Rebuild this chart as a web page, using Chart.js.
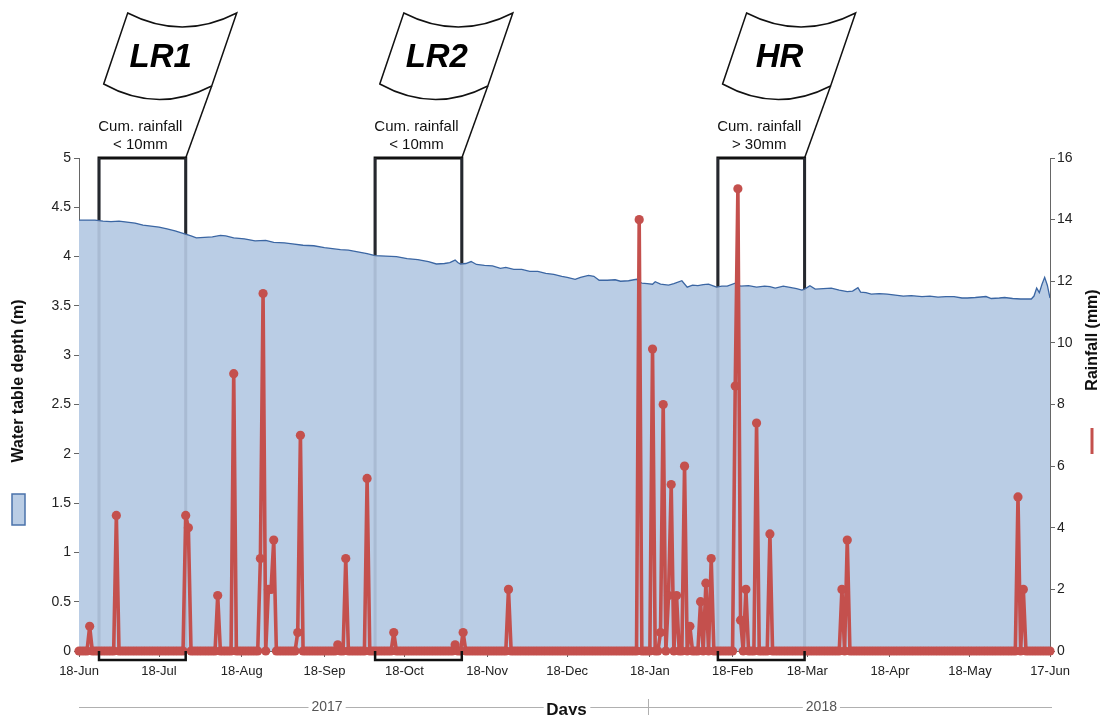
<!DOCTYPE html>
<html>

<head>
    <script src="https://cdn.jsdelivr.net/npm/chart.js"></script>
    <style>
        body {
            margin: 0;
            background-color: white;
            font-family: "Liberation Sans", Arial, sans-serif;
        }

        .chart-box {
            position: relative;
            width: 1109px;
            height: 715px;
        }
    </style>
</head>

<body>
    <div class="chart-box">
        <canvas id="waterChart"></canvas>
    </div>

    <script>
        // Days counted from 18-Jun-2017 (day 0) to 17-Jun-2018 (day 364)
        const tickDays = [0, 30, 61, 92, 122, 153, 183, 214, 245, 273, 304, 334, 364];
        const tickLabels = ["18-Jun", "18-Jul", "18-Aug", "18-Sep", "18-Oct", "18-Nov", "18-Dec",
            "18-Jan", "18-Feb", "18-Mar", "18-Apr", "18-May", "17-Jun"];

        // Water table depth (m)
        const waterDays = [0, 3, 6, 9, 12, 15, 18, 21, 24, 27, 30, 33, 36, 39, 42, 44, 47, 50, 53, 55,
            58, 62, 66, 70, 73, 77, 80, 84, 88, 92, 95, 98, 101, 104, 108, 111, 115, 119, 123, 127,
            131, 134, 137, 139, 141, 142, 143, 145, 147, 149, 152, 155, 158, 160, 163, 166, 169, 172, 175, 178,
            181, 183, 186, 188, 191, 193, 195, 198, 201, 203, 206, 209, 211, 213, 215, 216, 218, 221, 223, 226,
            228, 230, 232, 234, 236, 238, 239, 241, 243, 246, 248, 251, 254, 257, 259, 261, 264, 267, 269, 271,
            272, 274, 276, 279, 282, 285, 288, 290, 292, 293, 295, 297, 300, 303, 306, 309, 312, 316, 319, 322,
            325, 328, 331, 333, 336, 340, 342, 345, 347, 350, 353, 355, 357, 358, 359, 360, 361, 362, 363, 364];
        const waterDepth = [4.37, 4.37, 4.37, 4.36, 4.355, 4.36, 4.35, 4.34, 4.32, 4.31, 4.30, 4.28, 4.26, 4.235, 4.21, 4.19, 4.195, 4.20, 4.215, 4.21,
            4.19, 4.18, 4.16, 4.165, 4.145, 4.14, 4.13, 4.115, 4.11, 4.09, 4.08, 4.07, 4.065, 4.05, 4.03, 4.01, 4.005, 4.00, 3.98, 3.97,
            3.95, 3.925, 3.93, 3.94, 3.965, 3.94, 3.925, 3.93, 3.95, 3.92, 3.91, 3.905, 3.88, 3.89, 3.87, 3.87, 3.85, 3.85, 3.83, 3.82,
            3.80, 3.79, 3.77, 3.79, 3.81, 3.80, 3.76, 3.76, 3.765, 3.75, 3.755, 3.77, 3.73, 3.725, 3.72, 3.745, 3.72, 3.71, 3.725, 3.755,
            3.69, 3.71, 3.705, 3.715, 3.72, 3.70, 3.69, 3.70, 3.70, 3.73, 3.70, 3.705, 3.69, 3.70, 3.695, 3.68, 3.70, 3.685, 3.675, 3.66,
            3.67, 3.705, 3.67, 3.675, 3.68, 3.66, 3.645, 3.65, 3.685, 3.64, 3.635, 3.62, 3.625, 3.62, 3.61, 3.60, 3.605, 3.595, 3.60, 3.59,
            3.595, 3.595, 3.58, 3.58, 3.585, 3.595, 3.575, 3.58, 3.585, 3.575, 3.57, 3.57, 3.57, 3.60, 3.68, 3.635, 3.72, 3.79, 3.71, 3.58];

        // Daily rainfall (mm); every other day is 0
        const rainDays = [4, 14, 40, 41, 52, 58, 68, 69, 71, 72, 73, 82, 83, 97, 100, 108, 118, 141, 144, 161,
            210, 215, 218, 219, 221, 222, 224, 227, 229, 233, 235, 237, 246, 247, 248, 250, 254, 259, 286, 288, 352, 354];
        const rainMm = [0.8, 4.4, 4.4, 4.0, 1.8, 9.0, 3.0, 11.6, 2.0, 2.0, 3.6, 0.6, 7.0, 0.2, 3.0, 5.6, 0.6, 0.2, 0.6, 2.0,
            14.0, 9.8, 0.6, 8.0, 1.8, 5.4, 1.8, 6.0, 0.8, 1.6, 2.2, 3.0, 8.6, 15.0, 1.0, 2.0, 7.4, 3.8, 2.0, 3.6, 5.0, 2.0];

        // Marked periods
        const periodNames = ["LR1", "LR2", "HR"];
        const periodNotes = ["< 10mm", "< 10mm", "> 30mm"];
        const periodStart = [7.5, 111, 239.5];
        const periodEnd = [40, 143.5, 272];

        const yearLabels = ["2017", "2018"];
        const yearLabelDays = [93, 278.3];
        const yearSplitDay = 213.3;

        const waterPoints = waterDays.map((d, i) => ({ x: d, y: waterDepth[i] }));
        const rainPoints = [];
        for (let d = 0; d <= 364; d++) {
            const k = rainDays.indexOf(d);
            rainPoints.push({ x: d, y: k >= 0 ? rainMm[k] : 0 });
        }

        const FONT = '"Liberation Sans", Arial, sans-serif';
        const RED = '#c4504d';
        const BLUE_FILL = '#bacde5';
        const BLUE_LINE = '#3b66a3';

        function drawFlag(ctx, cx, top, name) {
            // flag hangs off a slanted pole that starts at the box's top-right corner
            ctx.save();
            ctx.strokeStyle = '#111';
            ctx.lineWidth = 1.5;
            ctx.fillStyle = 'white';
            const tl = [cx - 58, top - 145], tr = [cx + 51, top - 145];
            const bl = [cx - 82, top - 74], br = [cx + 26, top - 72];
            ctx.beginPath();
            ctx.moveTo(tl[0], tl[1]);
            ctx.quadraticCurveTo((tl[0] + tr[0]) / 2, tl[1] + 28, tr[0], tr[1]);
            ctx.lineTo(br[0], br[1]);
            ctx.quadraticCurveTo((bl[0] + br[0]) / 2, br[1] + 28, bl[0], bl[1]);
            ctx.closePath();
            ctx.fill();
            ctx.stroke();
            ctx.beginPath();
            ctx.moveTo(br[0], br[1]);
            ctx.lineTo(cx, top);
            ctx.stroke();
            ctx.fillStyle = '#000';
            ctx.font = 'italic bold 33px ' + FONT;
            ctx.textAlign = 'center';
            ctx.textBaseline = 'middle';
            ctx.fillText(name, cx - 25, top - 100);
            ctx.restore();
        }

        const overlays = {
            id: 'overlays',
            beforeDatasetsDraw(chart) {
                // box outlines; the water fill hides their lower part
                const { ctx, chartArea, scales: { x } } = chart;
                ctx.save();
                ctx.strokeStyle = '#111';
                ctx.lineWidth = 3;
                periodStart.forEach((s, i) => {
                    const x1 = x.getPixelForValue(s), x2 = x.getPixelForValue(periodEnd[i]);
                    ctx.beginPath();
                    ctx.moveTo(x1, chartArea.bottom);
                    ctx.lineTo(x1, chartArea.top);
                    ctx.lineTo(x2, chartArea.top);
                    ctx.lineTo(x2, chartArea.bottom);
                    ctx.stroke();
                });
                ctx.restore();
            },
            afterDatasetDraw(chart, args) {
                if (args.index !== 0) return;
                const { ctx, chartArea, scales: { x } } = chart;
                ctx.save();
                ctx.strokeStyle = 'rgba(110,125,150,0.22)';
                ctx.lineWidth = 3;
                periodStart.forEach((s, i) => {
                    [s, periodEnd[i]].forEach(d => {
                        const px = x.getPixelForValue(d);
                        ctx.beginPath();
                        ctx.moveTo(px, chartArea.top);
                        ctx.lineTo(px, chartArea.bottom);
                        ctx.stroke();
                    });
                });
                ctx.restore();
            },
            afterDraw(chart) {
                const { ctx, chartArea, scales: { x } } = chart;
                const top = chartArea.top, bottom = chartArea.bottom;

                periodStart.forEach((s, i) => {
                    const x1 = x.getPixelForValue(s), x2 = x.getPixelForValue(periodEnd[i]);
                    drawFlag(ctx, x2, top, periodNames[i]);

                    ctx.save();
                    ctx.fillStyle = '#111';
                    ctx.font = '15px ' + FONT;
                    ctx.textAlign = 'center';
                    ctx.textBaseline = 'middle';
                    ctx.fillText('Cum. rainfall', (x1 + x2) / 2 - 2, top - 31);
                    ctx.fillText(periodNotes[i], (x1 + x2) / 2 - 2, top - 13);

                    // bracket under the axis
                    ctx.strokeStyle = '#111';
                    ctx.lineWidth = 2.5;
                    ctx.beginPath();
                    ctx.moveTo(x1, bottom);
                    ctx.lineTo(x1, bottom + 9);
                    ctx.lineTo(x2, bottom + 9);
                    ctx.lineTo(x2, bottom);
                    ctx.stroke();
                    ctx.restore();
                });

                ctx.save();
                // left axis title with its legend swatch
                ctx.translate(19, 381);
                ctx.rotate(-Math.PI / 2);
                ctx.font = 'bold 16px ' + FONT;
                ctx.fillStyle = '#111';
                ctx.textAlign = 'center';
                ctx.textBaseline = 'middle';
                ctx.fillText('Water table depth (m)', 0, 0);
                ctx.restore();
                ctx.save();
                ctx.fillStyle = BLUE_FILL;
                ctx.strokeStyle = '#4a72aa';
                ctx.lineWidth = 1.5;
                ctx.fillRect(12, 494, 13, 31);
                ctx.strokeRect(12, 494, 13, 31);
                ctx.restore();

                // right axis title with its legend line
                ctx.save();
                ctx.translate(1093, 340);
                ctx.rotate(-Math.PI / 2);
                ctx.font = 'bold 16px ' + FONT;
                ctx.fillStyle = '#111';
                ctx.textAlign = 'center';
                ctx.textBaseline = 'middle';
                ctx.fillText('Rainfall (mm)', 0, 0);
                ctx.restore();
                ctx.save();
                ctx.strokeStyle = RED;
                ctx.lineWidth = 3;
                ctx.beginPath();
                ctx.moveTo(1092, 428);
                ctx.lineTo(1092, 454);
                ctx.stroke();
                ctx.restore();

                // year strip and axis title
                const split = x.getPixelForValue(yearSplitDay);
                const yy = 707;
                ctx.save();
                ctx.strokeStyle = '#b0b0b0';
                ctx.lineWidth = 1;
                ctx.beginPath();
                ctx.moveTo(x.getPixelForValue(0), yy + 0.5);
                ctx.lineTo(x.getPixelForValue(364) + 2, yy + 0.5);
                ctx.moveTo(split + 0.5, 699);
                ctx.lineTo(split + 0.5, 715);
                ctx.stroke();
                ctx.font = '14px ' + FONT;
                ctx.textAlign = 'center';
                ctx.textBaseline = 'middle';
                yearLabels.forEach((lab, i) => {
                    const px = x.getPixelForValue(yearLabelDays[i]);
                    const w = ctx.measureText(lab).width;
                    ctx.fillStyle = 'white';
                    ctx.fillRect(px - w / 2 - 3, yy - 8, w + 6, 16);
                    ctx.fillStyle = '#555';
                    ctx.fillText(lab, px, yy);
                });
                ctx.font = 'bold 17px ' + FONT;
                const w = ctx.measureText('Days').width;
                ctx.fillStyle = 'white';
                ctx.fillRect(567 - w / 2 - 3, yy - 6, w + 6, 14);
                ctx.fillStyle = '#111';
                ctx.textBaseline = 'alphabetic';
                ctx.fillText('Days', (chartArea.left + chartArea.right) / 2 + 2, 715);
                ctx.restore();
            }
        };

        new Chart('waterChart', {
            type: 'line',
            data: {
                datasets: [{
                    label: 'Water table depth (m)',
                    data: waterPoints,
                    yAxisID: 'y',
                    order: 2,
                    borderColor: BLUE_LINE,
                    borderWidth: 1.3,
                    backgroundColor: BLUE_FILL,
                    fill: 'origin',
                    pointRadius: 0,
                    tension: 0
                }, {
                    label: 'Rainfall (mm)',
                    data: rainPoints,
                    yAxisID: 'y2',
                    order: 1,
                    borderColor: RED,
                    backgroundColor: RED,
                    borderWidth: 3.6,
                    borderJoinStyle: 'round',
                    pointRadius: 4.6,
                    pointBorderWidth: 0,
                    pointBackgroundColor: RED,
                    tension: 0,
                    clip: false
                }]
            },
            options: {
                responsive: true,
                maintainAspectRatio: false,
                animation: false,
                layout: { padding: { top: 158, left: 0, right: 0, bottom: 0 } },
                plugins: {
                    legend: { display: false },
                    tooltip: { enabled: false }
                },
                scales: {
                    x: {
                        type: 'linear',
                        min: 0,
                        max: 364,
                        afterBuildTicks: s => { s.ticks = tickDays.map(v => ({ value: v })); },
                        afterFit: s => { s.height = 64; },
                        grid: { drawOnChartArea: false, tickLength: 6, color: '#666' },
                        border: { display: true, color: '#666' },
                        ticks: {
                            autoSkip: false,
                            maxRotation: 0,
                            padding: 7,
                            color: '#222',
                            font: { family: FONT, size: 13 },
                            callback: v => tickLabels[tickDays.indexOf(v)]
                        }
                    },
                    y: {
                        position: 'left',
                        min: 0,
                        max: 5,
                        afterFit: s => { s.width = 79; },
                        grid: { drawOnChartArea: false, tickLength: 5, color: '#666' },
                        border: { display: true, color: '#666' },
                        ticks: {
                            stepSize: 0.5,
                            padding: 3,
                            color: '#222',
                            font: { family: FONT, size: 14 },
                            callback: v => String(Math.round(v * 10) / 10)
                        }
                    },
                    y2: {
                        position: 'right',
                        min: 0,
                        max: 16,
                        afterFit: s => { s.width = 59; },
                        grid: { drawOnChartArea: false, tickLength: 5, color: '#666' },
                        border: { display: true, color: '#666' },
                        ticks: {
                            stepSize: 2,
                            padding: 2,
                            color: '#222',
                            font: { family: FONT, size: 14 }
                        }
                    }
                }
            },
            plugins: [overlays]
        });
    </script>
</body>
</html>
